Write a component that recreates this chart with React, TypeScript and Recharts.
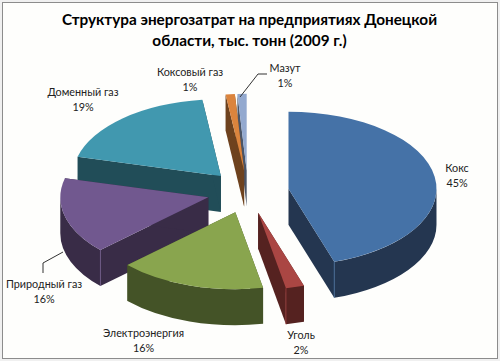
import React from 'react';
import { PieChart, Pie } from 'recharts';

const categories = ['Кокс', 'Уголь', 'Электроэнергия', 'Природный газ', 'Доменный газ', 'Коксовый газ', 'Мазут'];
const shares = [45, 2, 16, 16, 19, 1, 1];
const topColors = ['#4572A7', '#AA4643', '#89A54E', '#71588F', '#4198AF', '#DB843D', '#93A9CF'];
const sideColors = ['#243650', '#552220', '#445327', '#392C47', '#214D58', '#6E421E', '#4A5568'];
const titleLines = ['Структура энергозатрат на предприятиях Донецкой', 'области, тыс. тонн (2009 г.)'];

// label anchor (centre x, first baseline) per category
const labelSpots: Record<string, [number, number]> = {
  'Кокс': [457, 172],
  'Уголь': [301, 339],
  'Электроэнергия': [143.5, 337],
  'Природный газ': [44, 288],
  'Доменный газ': [83, 96],
  'Коксовый газ': [190, 76],
  'Мазут': [285, 72],
};
const leaders: Record<string, string> = {
  'Мазут': '240,97 258,74 267,74',
  'Природный газ': '63,252 43,263 43,273',
};

const TILT = 0.52;
const DEPTH = 36;
const EXPLODE = 0.277;
const FONT = 'Lato, "Open Sans", sans-serif';

// drawn back to front, so the table runs counter-clockwise from 12 o'clock
const table = categories
  .map((name, i) => ({ name, value: shares[i], fill: topColors[i], side: sideColors[i] }))
  .reverse();

const Slice3D = (props: any) => {
  const { cx, cy, outerRadius, startAngle, endAngle, fill, side } = props;
  const rx = outerRadius;
  const ry = outerRadius * TILT;
  const span = endAngle - startAngle;
  const a0 = (((90 - endAngle) % 360) + 360) % 360;
  const a1 = a0 + span;
  const rad = (d: number) => (d * Math.PI) / 180;
  const mid = rad((a0 + a1) / 2);
  const ox = cx + EXPLODE * rx * Math.sin(mid);
  const oy = cy - EXPLODE * ry * Math.cos(mid);
  const px = (a: number) => ox + rx * Math.sin(rad(a));
  const py = (a: number) => oy - ry * Math.cos(rad(a));

  const wallFrom = Math.max(a0, 90);
  const wallTo = Math.min(a1, 270);
  const showStart = a0 > 180 && a0 < 270;
  const showEnd = a1 > 90 && a1 < 180;

  return (
    <g>
      <polygon
        points={`${ox},${oy} ${px(a0)},${py(a0)} ${px(a0)},${py(a0) + DEPTH} ${ox},${oy + DEPTH}`}
        fill={side}
      />
      <polygon
        points={`${ox},${oy} ${px(a1)},${py(a1)} ${px(a1)},${py(a1) + DEPTH} ${ox},${oy + DEPTH}`}
        fill={side}
      />
      {wallTo > wallFrom && (
        <path
          d={`M${px(wallFrom)},${py(wallFrom)} A${rx},${ry} 0 0 1 ${px(wallTo)},${py(wallTo)} L${px(wallTo)},${py(wallTo) + DEPTH} A${rx},${ry} 0 0 0 ${px(wallFrom)},${py(wallFrom) + DEPTH} Z`}
          fill={side}
        />
      )}
      <path
        d={`M${ox},${oy} L${px(a0)},${py(a0)} A${rx},${ry} 0 ${span > 180 ? 1 : 0} 1 ${px(a1)},${py(a1)} Z`}
        fill={fill}
      />
      {showStart && (
        <line x1={px(a0)} y1={py(a0)} x2={px(a0)} y2={py(a0) + DEPTH} stroke={fill} strokeOpacity={0.7} />
      )}
      {showEnd && (
        <line x1={px(a1)} y1={py(a1)} x2={px(a1)} y2={py(a1) + DEPTH} stroke={fill} strokeOpacity={0.7} />
      )}
    </g>
  );
};

const SliceLabel = (props: any) => {
  const { name, value } = props;
  const [x, y] = labelSpots[name];
  return (
    <g>
      {leaders[name] && <polyline points={leaders[name]} fill="none" stroke="#333" strokeWidth={1} />}
      <text x={x} y={y} textAnchor="middle" fontFamily={FONT} fontSize={10.8} fill="#222">
        {name}
      </text>
      <text x={x} y={y + 15} textAnchor="middle" fontFamily={FONT} fontSize={10.8} fill="#222">
        {value}%
      </text>
    </g>
  );
};

export default function App() {
  return (
    <div style={{ position: 'absolute', left: 0, top: 0, width: 500, height: 361, background: '#f0f0f0' }}>
      <div
        style={{
          position: 'absolute',
          left: 2,
          top: 2,
          width: 494,
          height: 355,
          background: '#fefefc',
          border: '1px solid #8c8c8c',
        }}
      />
      <div style={{ position: 'absolute', left: 0, top: 0 }}>
        <PieChart width={500} height={361} margin={{ top: 0, right: 0, bottom: 0, left: 0 }}>
          <text x={249.5} y={24.5} textAnchor="middle" fontFamily={FONT} fontWeight={700} fontSize={15.3} fill="#000">
            {titleLines[0]}
          </text>
          <text x={249.5} y={45.5} textAnchor="middle" fontFamily={FONT} fontWeight={700} fontSize={15.3} fill="#000">
            {titleLines[1]}
          </text>
          <Pie
            data={table}
            dataKey="value"
            nameKey="name"
            cx={248}
            cy={192}
            innerRadius={0}
            outerRadius={148}
            startAngle={90}
            endAngle={450}
            stroke="none"
            shape={Slice3D}
            label={SliceLabel}
            labelLine={false}
            isAnimationActive={false}
          />
        </PieChart>
      </div>
    </div>
  );
}
